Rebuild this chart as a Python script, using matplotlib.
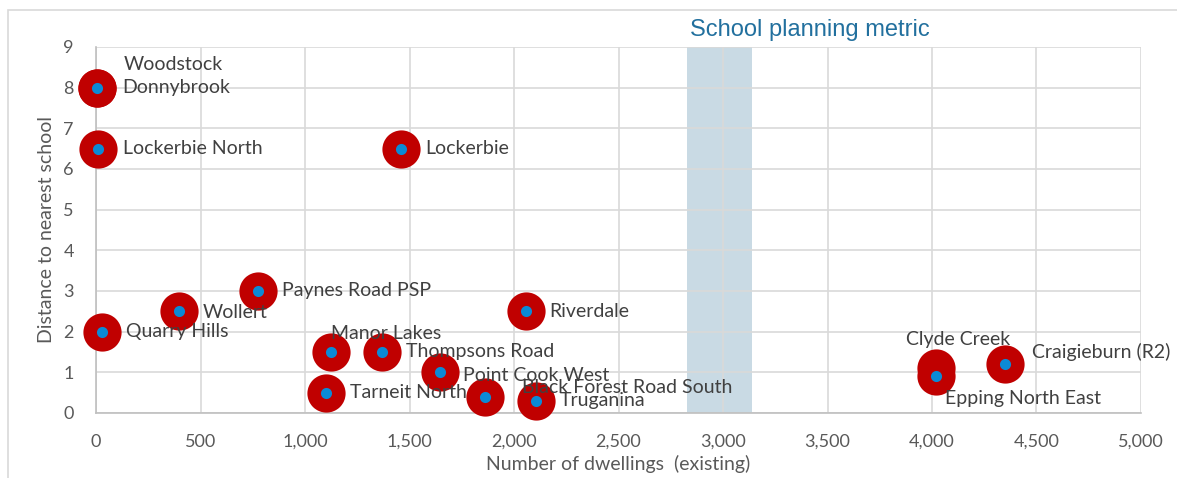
import matplotlib.pyplot as plt
from matplotlib.patches import Rectangle
from matplotlib.ticker import FuncFormatter, MultipleLocator

# growth areas: existing dwellings vs distance to nearest school (km)
areas = ['Woodstock', 'Donnybrook', 'Lockerbie North', 'Lockerbie', 'Paynes Road PSP',
         'Wollert', 'Quarry Hills', 'Manor Lakes', 'Thompsons Road', 'Point Cook West',
         'Tarneit North', 'Black Forest Road South', 'Truganina', 'Riverdale',
         'Clyde Creek', 'Epping North East', 'Craigieburn (R2)']
dwellings = [5, 5, 10, 1460, 775, 395, 30, 1125, 1370, 1645,
             1100, 1860, 2105, 2055, 4020, 4020, 4350]
distance = [8, 8, 6.5, 6.5, 3, 2.5, 2, 1.5, 1.5, 1.0,
            0.5, 0.4, 0.3, 2.5, 1.1, 0.9, 1.2]

# planning metric band on the dwellings axis
metric_lo, metric_hi = 2830, 3140

# label offsets in points (dx, dy) from each marker
offsets = [(19, 17), (18, 0), (18, 0), (17, 0), (17, 0),
           (17, -1), (17, 0), (0, 13), (17, 0), (17, -2),
           (17, 0), (27, 7), (17, 0), (17, 0),
           (-22, 21), (6, -16), (19, 9)]

RED = '#C00000'
BLUE = '#0B8AD6'
TEXT = '#404040'
TICK = '#595959'
GRID = '#D9D9D9'

plt.rcParams['font.family'] = ['Lato', 'DejaVu Sans']

fig = plt.figure(figsize=(11.77, 4.78), dpi=100)
ax = fig.add_axes([0.0816, 0.136, 0.8878, 0.7657])

# outer chart frame
fig.add_artist(Rectangle((8 / 1177, -0.1), 1.2, 1 - 10 / 478 + 0.1, transform=fig.transFigure,
                         fill=False, edgecolor='#D9D9D9', linewidth=1.2))

ax.axvspan(metric_lo, metric_hi, color='#C9DAE4', zorder=0.5, linewidth=0)

for i, (x, y) in enumerate(zip(dwellings, distance)):
    ax.plot(x, y, 'o', markersize=17.75, markerfacecolor=BLUE, markeredgecolor=RED,
            markeredgewidth=9.75, zorder=3 + i * 0.01, clip_on=False)

for name, x, y, (dx, dy) in zip(areas, dwellings, distance, offsets):
    ax.annotate(name, (x, y), xytext=(dx, dy), textcoords='offset points',
                ha='left', va='center', fontsize=14, color=TEXT, zorder=5)

ax.set_xlim(0, 5000)
ax.set_ylim(0, 9)
ax.xaxis.set_major_locator(MultipleLocator(500))
ax.yaxis.set_major_locator(MultipleLocator(1))
ax.xaxis.set_major_formatter(FuncFormatter(lambda v, p: f'{int(v):,}'))
ax.grid(True, color=GRID, linewidth=1.2, zorder=0)
ax.set_axisbelow(True)
for side in ['top', 'right']:
    ax.spines[side].set_visible(False)
for side in ['left', 'bottom']:
    ax.spines[side].set_color('#BFBFBF')
    ax.spines[side].set_linewidth(1.2)
ax.tick_params(length=0, labelsize=13, labelcolor=TICK)
ax.tick_params(axis='x', pad=15)
ax.tick_params(axis='y', pad=16)

ax.set_xlabel('Number of dwellings  (existing)', fontsize=14, color=TICK, labelpad=4)
ax.set_ylabel('Distance to nearest school', fontsize=14, color=TICK, labelpad=6)

fig.text(810 / 1177, 1 - 30 / 478, 'School planning metric', ha='center', va='center',
         fontsize=17, color='#22709E', family=['Liberation Sans', 'DejaVu Sans'])

fig.savefig('out.png', dpi=100)
